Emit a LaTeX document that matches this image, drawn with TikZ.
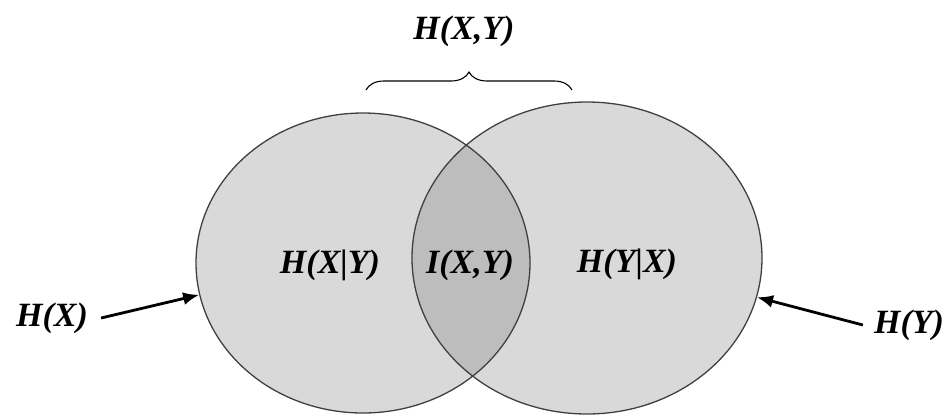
\documentclass[tikz,border=0pt]{standalone}
\usepackage{fontspec}
\setmainfont{Liberation Serif}
\usepackage{xcolor}
\usepackage{tikz}
\usetikzlibrary{
  positioning,
  arrows.meta,
  shapes.geometric,
  decorations.pathreplacing,
  backgrounds
}
\definecolor{vennfill}{gray}{0.85}
\definecolor{lensfill}{gray}{0.74}
\definecolor{vennline}{gray}{0.25}
\tikzset{
  >=Latex,
  entarrow/.style={-{Latex[length=16pt,width=13pt]},line width=2.8pt},
  setshape/.style={ellipse,draw=vennline,line width=1.3pt,inner sep=0pt},
  label/.style={font=\bfseries\itshape\fontsize{34}{40}\selectfont,inner sep=1pt}
}

\begin{document}
\begin{tikzpicture}[x=1pt,y=-1pt]
    \useasboundingbox (0,0) rectangle (951,416);

    % Conjuntos
    \node[setshape,minimum width=334pt,minimum height=300pt] (setx) at (363,263) {};
    \node[setshape,minimum width=350pt,minimum height=312pt] (sety) at (587,258) {};

    % Rellenos (debajo de los bordes)
    \begin{scope}[on background layer]
      \fill[vennfill] (setx.center) ellipse [x radius=167, y radius=150];
      \fill[vennfill] (sety.center) ellipse [x radius=175, y radius=156];
      \begin{scope}
        \clip (setx.center) ellipse [x radius=167, y radius=150];
        \fill[lensfill] (sety.center) ellipse [x radius=175, y radius=156];
      \end{scope}
    \end{scope}

    % Textos dentro
    \node[label] (hxy) at (330,265) {H(X|Y)};
    \node[label] (ixy) at (470,265) {I(X,Y)};
    \node[label] (hyx) at (627,264) {H(Y|X)};

    % Entropias marginales
    \node[label] (hx) at (52,318) {H(X)};
    \node[label] (hy) at (909,325) {H(Y)};
    \draw[entarrow] (hx.east) ++(12,0) -- (setx.191);
    \draw[entarrow] (hy.west) ++(-10,0) -- (sety.-13);

    % Llave conjunta
    \coordinate (bl) at (366,90);
    \coordinate (br) at (572,90);
    \draw[line width=1.1pt,decorate,decoration={brace,amplitude=18pt}] (bl) -- (br);
    \node[label] (joint) at (464,31) {H(X,Y)};
\end{tikzpicture}
\end{document}
